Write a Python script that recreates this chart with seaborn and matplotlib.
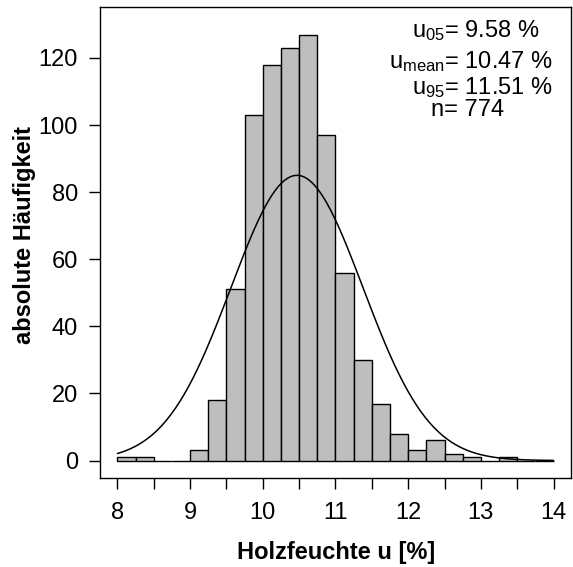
import numpy as np
import pandas as pd
import matplotlib
matplotlib.use("Agg")
import matplotlib.pyplot as plt
import seaborn as sns

# histogram counts, bins of 0.25 from 8 to 14
bin_edges = [8.0 + 0.25 * i for i in range(25)]
counts = [1, 1, 0, 0, 3, 18, 51, 103, 118, 123, 127, 97,
          56, 30, 17, 8, 3, 6, 2, 1, 0, 1, 0, 0]

# summary values shown in the corner
n_total = 774
u05 = 9.58
u_mean = 10.47
u95 = 11.51
u_sd = 0.908  # fitted normal curve

x_ticks = [8, 9, 10, 11, 12, 13, 14]
y_ticks = [0, 20, 40, 60, 80, 100, 120]

sns.set_style("ticks")
plt.rcParams["font.family"] = ["Liberation Sans", "DejaVu Sans"]
plt.rcParams["axes.edgecolor"] = "black"
plt.rcParams["axes.linewidth"] = 1.0
plt.rcParams["text.color"] = "black"
plt.rcParams["axes.labelcolor"] = "black"
plt.rcParams["xtick.color"] = "black"
plt.rcParams["ytick.color"] = "black"

edges = np.array(bin_edges)
df = pd.DataFrame({"u": (edges[:-1] + edges[1:]) / 2, "count": counts})

fig = plt.figure(figsize=(5.73, 5.67), dpi=100)
ax = fig.add_axes([100 / 573, 1 - 478 / 567, 471 / 573, 471 / 567])

sns.histplot(data=df, x="u", weights="count", bins=bin_edges, ax=ax,
             color="#BEBEBE", edgecolor="black", linewidth=1.0, alpha=1.0)

# normal curve scaled to counts
bw = 0.25
xs = np.linspace(8, 14, 300)
ys = n_total * bw * np.exp(-0.5 * ((xs - u_mean) / u_sd) ** 2) / (u_sd * np.sqrt(2 * np.pi))
sns.lineplot(x=xs, y=ys, ax=ax, color="black", linewidth=1.1)

ax.set_xlim(7.76, 14.24)
ax.set_ylim(-5.2, 135.2)

half_ticks = np.arange(8, 14.01, 0.5)
ax.set_xticks(half_ticks)
ax.set_xticklabels([str(int(t)) if t in x_ticks else "" for t in half_ticks])
ax.set_yticks(y_ticks)
ax.set_yticklabels([str(t) for t in y_ticks])
ax.tick_params(axis="both", direction="out", length=8, width=1.0,
               labelsize=17, color="black", labelcolor="black")
ax.tick_params(axis="x", pad=9)
ax.tick_params(axis="y", pad=8)

ax.set_xlabel("Holzfeuchte u [%]", fontsize=17, fontweight="bold")
ax.set_ylabel("absolute Häufigkeit", fontsize=17, fontweight="bold")
ax.xaxis.label.set_va("center")
ax.yaxis.label.set_va("center")
ax.xaxis.set_label_coords((336 - 100) / 471, (478 - 552) / 471)
ax.yaxis.set_label_coords((25 - 100) / 471, (478 - 235) / 471)

for s in ax.spines.values():
    s.set_visible(True)
    s.set_color("black")

# annotation block
lines = [
    (r"u$\mathregular{_{05}}$= " + f"{u05:.2f} %", 476, 31),
    (r"u$\mathregular{_{mean}}$= " + f"{u_mean:.2f} %", 471, 62),
    (r"u$\mathregular{_{95}}$= " + f"{u95:.2f} %", 482, 88),
    (f"n= {n_total}", 468, 110),
]
for txt, px, py in lines:
    fig.text(px / 573, 1 - py / 567, txt, ha="center", va="center", fontsize=17)

fig.savefig("out.png", dpi=100)
